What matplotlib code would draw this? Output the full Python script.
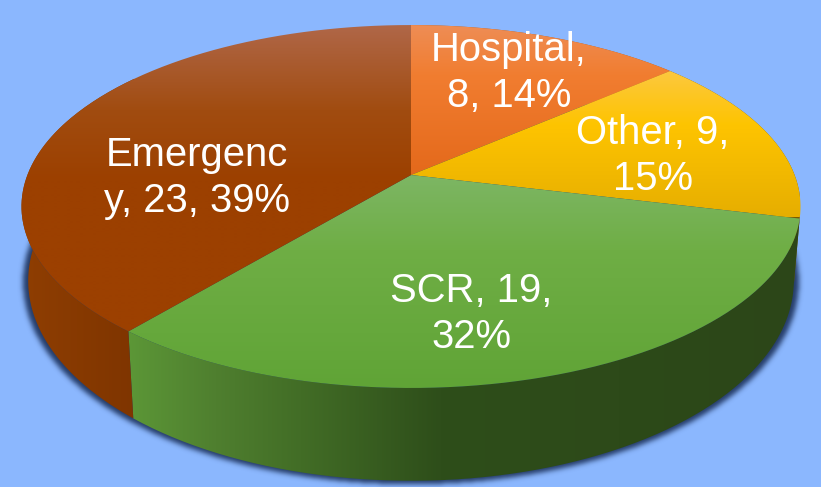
import numpy as np
import matplotlib
matplotlib.use('Agg')
import matplotlib.pyplot as plt
from matplotlib.colors import LinearSegmentedColormap, to_rgb
from matplotlib.patches import PathPatch
from matplotlib.path import Path

categories = ['Hospital', 'Other', 'SCR', 'Emergency']
values = [8, 9, 19, 23]
labels = ['Hospital,\n8, 14%', 'Other, 9,\n15%', 'SCR, 19,\n32%', 'Emergenc\ny, 23, 39%']
label_pos = [(509, 73), (653, 156), (471, 314), (197, 178)]

BG = '#8BB7FE'
# top face: vertical gradient, (pixel y, colour)
top_stops = [
    [(25, '#EE8D55'), (75, '#F17D30'), (175, '#E4691B')],
    [(70, '#FCC840'), (125, '#FEC400'), (217, '#E6AE00')],
    [(175, '#7DB664'), (250, '#6FAE45'), (388, '#60A436')],
    [(25, '#B06748'), (110, '#A14C10'), (180, '#9C4000'), (335, '#9C4000')],
]
# side: horizontal gradient, (pixel x, colour)
side_stops = [
    [(400, '#A85A20'), (670, '#A85A20')],
    [(660, '#7A5A00'), (800, '#7A5A00')],
    [(127, '#5C9737'), (215, '#4F7F2F'), (300, '#426D26'), (440, '#2E4E1A'), (800, '#2C4618')],
    [(20, '#8F3E02'), (134, '#7F3500')],
]

# geometry of the perspective disc
CX, CY = 411, 175
TOP_A, TOP_C = 176, 383.6
BOT_Y, BOT_A, BOT_C = 246, 194, 377
K = 0.1736


def project(theta, c, a, cy):
    u, v = np.sin(theta), np.cos(theta)
    den = 1 + K * v
    return CX + c * u / den, cy - a * v / den


def grad_image(ax, stops, clip, vertical=True):
    pos = np.array([s[0] for s in stops], dtype=float)
    cols = [to_rgb(s[1]) for s in stops]
    t = (pos - pos[0]) / (pos[-1] - pos[0])
    cmap = LinearSegmentedColormap.from_list('g', list(zip(t, cols)))
    g = np.linspace(0, 1, 256)
    if vertical:
        im = ax.imshow(g[:, None], cmap=cmap, aspect='auto', interpolation='bilinear',
                       extent=(0, 821, pos[-1], pos[0]), vmin=0, vmax=1, zorder=3)
    else:
        im = ax.imshow(g[None, :], cmap=cmap, aspect='auto', interpolation='bilinear',
                       extent=(pos[0], pos[-1], 487, 0), vmin=0, vmax=1, zorder=2)
    patch = PathPatch(clip, transform=ax.transData, fc='none', ec='none')
    ax.add_patch(patch)
    im.set_clip_path(patch)


def blur(a, sigma):
    r = int(3 * sigma)
    kern = np.exp(-0.5 * (np.arange(-r, r + 1) / sigma) ** 2)
    kern /= kern.sum()
    a = np.apply_along_axis(lambda m: np.convolve(m, kern, mode='same'), 0, a)
    return np.apply_along_axis(lambda m: np.convolve(m, kern, mode='same'), 1, a)


fig = plt.figure(figsize=(8.21, 4.87), dpi=100, facecolor=BG)
ax = fig.add_axes([0, 0, 1, 1])
ax.set_facecolor(BG)

# soft shadow below the disc
t = np.linspace(0, 2 * np.pi, 400)
sx, sy = project(t, BOT_C + 5, BOT_A + 2, BOT_Y + 1)
gx, gy = np.meshgrid(np.arange(821) + 0.5, np.arange(487) + 0.5)
mask = Path(np.column_stack([sx, sy])).contains_points(np.column_stack([gx.ravel(), gy.ravel()]))
mask = blur(mask.reshape(gx.shape).astype(float), 2.6)
shadow = np.zeros(mask.shape + (4,))
shadow[..., :3] = to_rgb('#1F3560')
shadow[..., 3] = mask * 0.95
ax.imshow(shadow, extent=(0, 821, 487, 0), aspect='auto', zorder=1)

edges = np.cumsum([0] + values) / sum(values) * 2 * np.pi
for i in range(len(values)):
    th = np.linspace(edges[i], edges[i + 1], 200)
    # side wall between the top and the bottom rim
    xt, yt = project(th, TOP_C, TOP_A, CY)
    xb, yb = project(th, BOT_C, BOT_A, BOT_Y)
    side = Path(np.column_stack([np.r_[xt, xb[::-1], xt[0]], np.r_[yt, yb[::-1], yt[0]]]))
    grad_image(ax, side_stops[i], side, vertical=False)

for i in range(len(values)):
    th = np.linspace(edges[i], edges[i + 1], 200)
    xt, yt = project(th, TOP_C, TOP_A, CY)
    face = Path(np.column_stack([np.r_[CX, xt, CX], np.r_[CY, yt, CY]]))
    grad_image(ax, top_stops[i], face)

for lab, (x, y) in zip(labels, label_pos):
    ax.text(x, y, lab, color='white', fontsize=28.8, family='Liberation Sans',
            ha='center', va='center', linespacing=1.28, zorder=5)

ax.set_xlim(0, 821)
ax.set_ylim(487, 0)
ax.axis('off')
fig.savefig('out.png', dpi=100, facecolor=BG)
